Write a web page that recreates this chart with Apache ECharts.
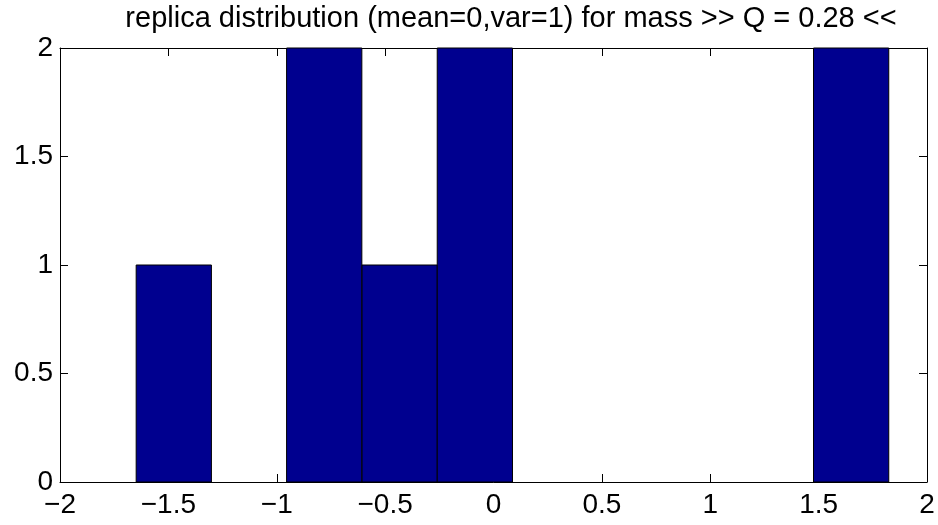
<!DOCTYPE html>
<html>
<head>
<meta charset="utf-8">
<script src="https://cdn.jsdelivr.net/npm/echarts@6/dist/echarts.min.js"></script>
<style>
  html, body { margin: 0; padding: 0; background: #fff; }
  #main { width: 938px; height: 525px; }
</style>
</head>
<body>
<div id="main"></div>
<script>
// histogram bins (10 bins)
const binCenters = [-1.475, -1.128, -0.781, -0.433, -0.086, 0.261, 0.608, 0.955, 1.302, 1.650];
const binCounts = [1, 0, 2, 1, 2, 0, 0, 0, 0, 2];
const binWidth = 0.3472;
const xTicks = [-2, -1.5, -1, -0.5, 0, 0.5, 1, 1.5, 2];
const yTicks = [0, 0.5, 1, 1.5, 2];

const chart = echarts.init(document.getElementById('main'), null, { renderer: 'canvas' });

const fontFamily = '"Liberation Sans", Arial, sans-serif';
const minus = v => String(v).replace('-', '\u2212');

const axisCommon = {
    axisLine: { show: true, onZero: false, lineStyle: { color: '#000', width: 1 } },
    axisTick: { show: true, inside: true, length: 8, lineStyle: { color: '#000', width: 1 } },
    splitLine: { show: false }
};

const option = {
    backgroundColor: '#fff',
    animation: false,
    title: {
        text: 'replica distribution (mean=0,var=1) for mass >> Q = 0.28 <<',
        left: 506,
        textAlign: 'center',
        top: -1,
        textStyle: { fontFamily: fontFamily, fontSize: 29, fontWeight: 'normal', color: '#000' }
    },
    grid: { left: 60, right: 11, top: 48, bottom: 43 },
    xAxis: [
        Object.assign({
            type: 'value', position: 'bottom', min: -2, max: 2, interval: 0.5,
            axisLabel: { color: '#000', fontSize: 28, fontFamily: fontFamily, margin: 9, formatter: minus }
        }, axisCommon),
        Object.assign({
            type: 'value', position: 'top', min: -2, max: 2, interval: 0.5,
            axisLabel: { show: false }
        }, axisCommon)
    ],
    yAxis: [
        Object.assign({
            type: 'value', position: 'left', min: 0, max: 2, interval: 0.5,
            axisLabel: { color: '#000', fontSize: 28, fontFamily: fontFamily, margin: 7, formatter: minus }
        }, axisCommon),
        Object.assign({
            type: 'value', position: 'right', min: 0, max: 2, interval: 0.5,
            axisLabel: { show: false }
        }, axisCommon)
    ],
    series: [{
        type: 'custom',
        xAxisIndex: 0,
        yAxisIndex: 0,
        data: binCenters.map((c, i) => [c, binCounts[i]]),
        encode: { x: 0, y: 1 },
        renderItem: function (params, api) {
            const c = api.value(0);
            const n = api.value(1);
            if (n <= 0) return null;
            const p1 = api.coord([c - binWidth / 2, n]);
            const p2 = api.coord([c + binWidth / 2, 0]);
            return {
                type: 'rect',
                shape: { x: p1[0], y: p1[1], width: p2[0] - p1[0], height: p2[1] - p1[1] },
                style: { fill: '#00008F', stroke: '#000', lineWidth: 1 }
            };
        }
    }]
};

chart.setOption(option);
</script>
</body>
</html>
